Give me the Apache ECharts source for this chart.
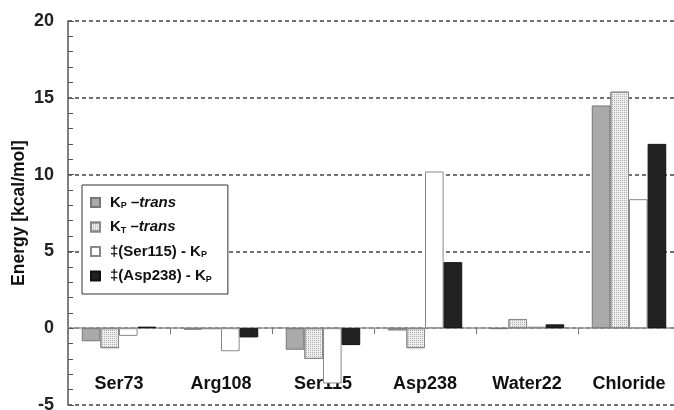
<!DOCTYPE html>
<html lang="en">
<head>
    <meta charset="UTF-8">
    <title>Energy</title>
    <script src="https://cdn.jsdelivr.net/npm/echarts@6/dist/echarts.min.js"></script>
    <style>
        body { margin: 0; background: #fff; }
    </style>
</head>
<body>
    <div id="main" style="width: 674px; height: 410px;"></div>
    <script>
        const categories = ['Ser73', 'Arg108', 'Ser115', 'Asp238', 'Water22', 'Chloride'];
        const seriesNames = ['KP-trans', 'KT-trans', 'TS-Ser115', 'TS-Asp238'];
        const kpTrans = [-0.85, -0.1, -1.4, -0.15, -0.05, 14.5];
        const ktTrans = [-1.3, -0.05, -2.0, -1.3, 0.6, 15.4];
        const tsSer115 = [-0.5, -1.5, -3.6, 10.2, 0.1, 8.4];
        const tsAsp238 = [0.1, -0.6, -1.1, 4.3, 0.25, 12.0];
        const yTicks = { min: -5, max: 20, interval: 5 };

        const font = '"Liberation Sans", Arial, sans-serif';

        // rich text for the legend
        const legendText = {
            'KP-trans': '{g|}{b|K}{s|P}{i| –trans}',
            'KT-trans': '{g|}{b|K}{s|T}{i| –trans}',
            'TS-Ser115': '{g|}{b|‡(Ser115) - K}{s|P}',
            'TS-Asp238': '{g|}{b|‡(Asp238) - K}{s|P}'
        };

        var myChart = echarts.init(document.getElementById('main'));
        option = {
            animation: false,
            grid: { left: 68, right: -6, top: 21, bottom: 5, outerBoundsMode: 'none', containLabel: false },
            legend: {
                orient: 'vertical',
                left: 82,
                top: 185,
                z: 10,
                data: seriesNames,
                icon: 'rect',
                itemWidth: 9,
                itemHeight: 9,
                itemGap: 9,
                padding: [10, 16, 10, 8],
                borderColor: '#333',
                borderWidth: 1,
                backgroundColor: '#fff',
                formatter: function (name) {
                    return legendText[name];
                },
                textStyle: {
                    fontFamily: font,
                    rich: {
                        g: { width: 5 },
                        b: { fontWeight: 'bold', fontSize: 15, color: '#111', fontFamily: font },
                        s: { fontWeight: 'bold', fontSize: 9, color: '#111', fontFamily: font, verticalAlign: 'bottom', padding: [7, 0, 0, 0] },
                        i: { fontWeight: 'bold', fontStyle: 'italic', fontSize: 15, color: '#111', fontFamily: font }
                    }
                }
            },
            xAxis: {
                type: 'category',
                data: categories,
                axisLine: { onZero: true, lineStyle: { color: '#999', width: 1.5 } },
                axisTick: { show: true, length: 6, lineStyle: { color: '#777' } },
                axisLabel: {
                    inside: true,
                    margin: 12,
                    fontSize: 18,
                    fontWeight: 'bold',
                    color: '#111',
                    fontFamily: font
                },
                splitLine: { show: false }
            },
            yAxis: {
                type: 'value',
                min: yTicks.min,
                max: yTicks.max,
                interval: yTicks.interval,
                name: 'Energy [kcal/mol]',
                nameLocation: 'middle',
                nameGap: 40,
                nameMoveOverlap: false,
                nameTextStyle: { fontSize: 17.5, fontWeight: 'bold', color: '#111', fontFamily: font },
                axisLine: { show: true, lineStyle: { color: '#555', width: 1.5 } },
                axisTick: { show: true, inside: true, length: 6, lineStyle: { color: '#555' } },
                minorTick: { show: true, splitNumber: 5, length: 5, lineStyle: { color: '#555' } },
                axisLabel: {
                    margin: 14,
                    fontSize: 18,
                    fontWeight: 'bold',
                    color: '#222',
                    fontFamily: font
                },
                splitLine: { show: true, lineStyle: { type: [4, 3], color: '#444', width: 1.5 } }
            },
            series: [
                {
                    name: 'KP-trans', type: 'bar', data: kpTrans,
                    barGap: '0%', barCategoryGap: '27%',
                    itemStyle: { color: '#aaaaaa', borderColor: '#777', borderWidth: 1 }
                },
                {
                    name: 'KT-trans', type: 'bar', data: ktTrans,
                    itemStyle: {
                        color: '#eeeeee', borderColor: '#888', borderWidth: 1,
                        decal: {
                            symbol: 'rect', symbolSize: 1, color: 'rgba(120,120,120,0.55)',
                            dashArrayX: [1, 1], dashArrayY: [1, 1], rotation: 0
                        }
                    }
                },
                {
                    name: 'TS-Ser115', type: 'bar', data: tsSer115,
                    itemStyle: { color: '#ffffff', borderColor: '#888', borderWidth: 1 }
                },
                {
                    name: 'TS-Asp238', type: 'bar', data: tsAsp238,
                    itemStyle: { color: '#222222', borderColor: '#111', borderWidth: 1 }
                }
            ]
        };
        myChart.setOption(option);
    </script>
</body>
</html>
